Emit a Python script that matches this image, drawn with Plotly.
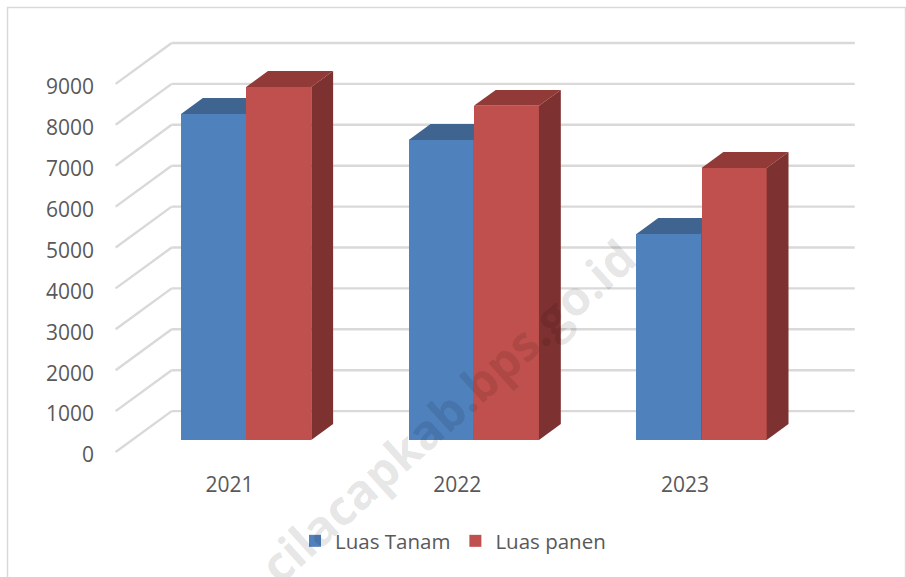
import plotly.graph_objects as go

years = ["2021", "2022", "2023"]
luas_tanam = [7970, 7335, 5040]
luas_panen = [8630, 8170, 6650]
y_ticks = list(range(0, 10000, 1000))
positions = [0, 1, 2]

W, H = 906, 577
PX_PER_CAT = 227.7
PX_PER_UNIT = 0.0409
X0_PX, Y0_PX = 229.5, 452
xr = [(0 - X0_PX) / PX_PER_CAT, (W - X0_PX) / PX_PER_CAT]
yr = [-(H - Y0_PX) / PX_PER_UNIT, Y0_PX / PX_PER_UNIT]

DEPTH_X = 0.246     # category units per whole floor depth
DEPTH_Y = 1000      # value units per whole floor depth
FRONT, BACK = 0.293, 0.683
WIDTH = 0.286
LEFT_OFF, RIGHT_OFF = -0.285, 0.001
EDGE_L, EDGE_R = -0.5, 2.5

BLUE, BLUE_TOP, BLUE_SIDE = "#4F81BD", "#3E648F", "#2F4E74"
RED, RED_TOP, RED_SIDE = "#C0504D", "#913A38", "#7D3130"
GRID = "#d9d9d9"
TEXT = "#595959"
FONT = "Open Sans"

fig = go.Figure()
shapes = []
for v in y_ticks:
    shapes.append(dict(type="line", xref="x", yref="y", layer="below",
                       x0=EDGE_L, y0=v, x1=EDGE_L + DEPTH_X, y1=v + DEPTH_Y,
                       line=dict(color=GRID, width=2.4)))
    shapes.append(dict(type="line", xref="x", yref="y", layer="below",
                       x0=EDGE_L + DEPTH_X, y0=v + DEPTH_Y, x1=EDGE_R + DEPTH_X, y1=v + DEPTH_Y,
                       line=dict(color=GRID, width=2.4)))
shapes.append(dict(type="rect", xref="paper", yref="paper", layer="below",
                   x0=7.5 / W, x1=905.5 / W, y0=-0.02, y1=1 - 7.5 / H,
                   line=dict(color=GRID, width=1.5)))


def add_series(name, values, off, col, top, side, n):
    xa, ya = ("x", "y") if n == 1 else (f"x{n}", f"y{n}")
    fx = DEPTH_X * FRONT
    bx = DEPTH_X * BACK
    fy = DEPTH_Y * FRONT
    by = DEPTH_Y * BACK
    fig.add_trace(go.Bar(name=name, x=[p + fx for p in positions], y=values, base=[fy] * len(values),
                         width=WIDTH, offset=off, marker=dict(color=col, line=dict(width=0)),
                         xaxis=xa, yaxis=ya))
    for p, v in zip(positions, values):
        l, r = p + off + fx, p + off + WIDTH + fx
        dx = bx - fx
        t = v + fy
        fig.add_trace(go.Scatter(x=[l, r, r + dx, l + dx, l], y=[t, t, v + by, v + by, t],
                                 fill="toself", fillcolor=top, mode="lines", line=dict(width=0),
                                 showlegend=False, hoverinfo="skip", xaxis=xa, yaxis=ya))
        fig.add_trace(go.Scatter(x=[r, r + dx, r + dx, r, r], y=[fy, by, v + by, t, fy],
                                 fill="toself", fillcolor=side, mode="lines", line=dict(width=0),
                                 showlegend=False, hoverinfo="skip", xaxis=xa, yaxis=ya))


add_series("Luas Tanam", luas_tanam, LEFT_OFF, BLUE, BLUE_TOP, BLUE_SIDE, 1)
add_series("Luas panen", luas_panen, RIGHT_OFF, RED, RED_TOP, RED_SIDE, 2)

hidden = dict(visible=False, fixedrange=True)
fig.update_layout(
    width=W, height=H, margin=dict(l=0, r=0, t=0, b=0), autosize=False,
    paper_bgcolor="white", plot_bgcolor="white", barmode="overlay", bargap=0,
    shapes=shapes,
    font=dict(family=FONT, color=TEXT, size=21),
    xaxis=dict(range=xr, domain=[0, 1], tickvals=positions, ticktext=years, showgrid=False, zeroline=False,
               showline=False, ticks="", anchor="free", position=1 - 469.5 / H, tickfont=dict(size=21)),
    yaxis=dict(range=yr, domain=[0, 1], tickvals=y_ticks, showgrid=False, zeroline=False, showline=False,
               ticks="", anchor="free", position=94 / W, tickfont=dict(size=21), ticklabelshift=3),
    xaxis2=dict(range=xr, overlaying="x", anchor="y2", **hidden),
    yaxis2=dict(range=yr, overlaying="y", anchor="x2", **hidden),
    legend=dict(orientation="h", x=0.5, xanchor="center", y=1 - 541 / H, yanchor="middle",
                font=dict(size=20.5), bgcolor="rgba(0,0,0,0)", traceorder="normal"),
    annotations=[dict(text="<b>cilacapkab.bps.go.id</b>", xref="paper", yref="paper",
                      x=447 / W, y=1 - 410 / H, xanchor="center", yanchor="middle",
                      showarrow=False, textangle=-42,
                      font=dict(size=48, color="rgba(0,0,0,0.11)", family=FONT))],
)
fig.write_html("out.html", config=dict(displayModeBar=False),
               post_script="document.body.style.margin='0';document.documentElement.style.overflow='hidden';")
